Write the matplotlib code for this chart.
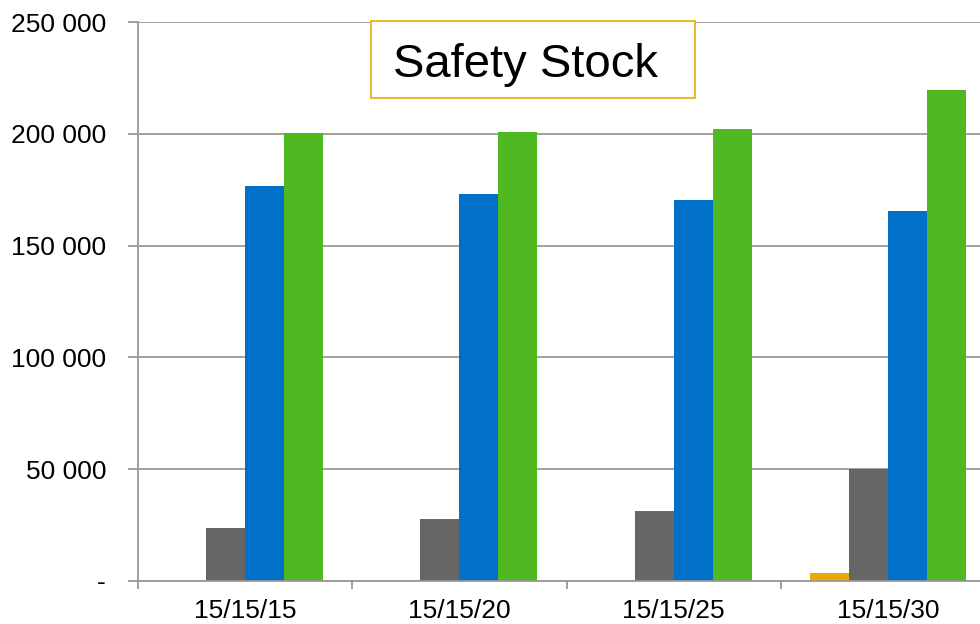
import matplotlib.pyplot as plt
import numpy as np
from matplotlib.patches import Rectangle
from matplotlib.ticker import FuncFormatter

plt.rcParams['font.family'] = ['Liberation Sans', 'DejaVu Sans']

# values
groups = ['15/15/15', '15/15/20', '15/15/25', '15/15/30']
orange = [0, 0, 0, 3600]
gray = [23700, 27700, 31300, 50100]
blue = [176600, 173100, 170400, 165500]
green = [200300, 200800, 202100, 219600]

series = [orange, gray, blue, green]
colors = ['#EAAA00', '#666666', '#0070C8', '#50B820']

fig = plt.figure(figsize=(9.8, 6.24), dpi=100)
# right edge of the plot area runs past the figure (as in the reference)
ax = fig.add_axes([138 / 980, 43 / 624, 857 / 980, 559 / 624])

x = np.arange(len(groups))
w = 0.182
for i, (vals, c) in enumerate(zip(series, colors)):
    ax.bar(x + (i - 1.5) * w, vals, width=w, color=c, linewidth=0, zorder=3)

ax.set_xlim(-0.5, len(groups) - 0.5)
ax.set_ylim(0, 250000)
ax.set_yticks(np.arange(0, 250001, 50000))
ax.yaxis.set_major_formatter(FuncFormatter(
    lambda v, p: '-' if v == 0 else f'{int(v):,}'.replace(',', ' ')))
ax.grid(axis='y', color='#999999', linewidth=1.3, zorder=0)

ax.set_xticks(x)
ax.set_xticklabels(groups)
ax.set_xticks(np.arange(-0.5, len(groups), 1), minor=True)
ax.tick_params(axis='x', which='major', length=0, pad=13, labelsize=19)
ax.tick_params(axis='x', which='minor', length=6, color='#999999', width=1.3)
ax.tick_params(axis='y', length=7, color='#999999', width=1.3, pad=16, labelsize=19)

for s in ['top', 'right']:
    ax.spines[s].set_visible(False)
for s in ['left', 'bottom']:
    ax.spines[s].set_color('#999999')
    ax.spines[s].set_linewidth(1.3)
ax.spines['bottom'].set_zorder(4)

# title box
fig.patches.append(Rectangle((371 / 980, 1 - 98 / 624), 324 / 980, 77 / 624,
                             transform=fig.transFigure, facecolor='white',
                             edgecolor='#EAAA00', linewidth=1.2, zorder=5))
fig.text(525 / 980, 1 - 65 / 624, 'Safety Stock', fontsize=34,
         ha='center', va='center', zorder=6)

fig.savefig('out.png', dpi=100)
